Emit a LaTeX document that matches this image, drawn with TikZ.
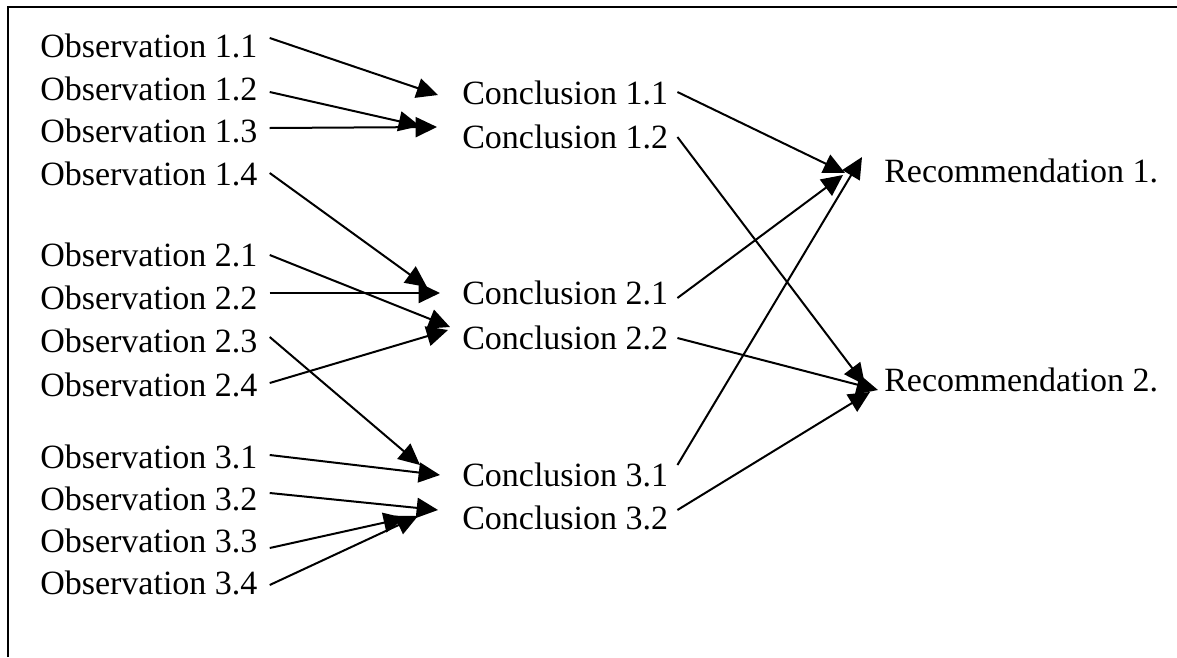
\documentclass[tikz,border=0pt]{standalone}
\usepackage{fontspec}
\setmainfont{Liberation Serif}
\usetikzlibrary{arrows.meta}
\begin{document}
\begin{tikzpicture}[x=0.75pt,y=-0.75pt,
  lbl/.style={anchor=west,inner xsep=9pt,inner ysep=0pt,text height=17.6pt,text depth=0pt,
              font=\fontsize{25.5}{30}\selectfont},
  link/.style={line width=1.5pt,-{Triangle[length=16pt,width=15pt]}},
  frame/.style={line width=2pt}]
\useasboundingbox (0,0) rectangle (1177,657);
\draw[frame] (8,657) -- (8,7) -- (1177,7);

% observations
\node[lbl] (o11) at (28,46)  {Observation 1.1};
\node[lbl] (o12) at (28,89)  {Observation 1.2};
\node[lbl] (o13) at (28,131) {Observation 1.3};
\node[lbl] (o14) at (28,174) {Observation 1.4};
\node[lbl] (o21) at (28,255) {Observation 2.1};
\node[lbl] (o22) at (28,298) {Observation 2.2};
\node[lbl] (o23) at (28,341) {Observation 2.3};
\node[lbl] (o24) at (28,385) {Observation 2.4};
\node[lbl] (o31) at (28,457) {Observation 3.1};
\node[lbl] (o32) at (28,499) {Observation 3.2};
\node[lbl] (o33) at (28,541) {Observation 3.3};
\node[lbl] (o34) at (28,583) {Observation 3.4};

% conclusions
\node[lbl] (c11) at (450,93)  {Conclusion 1.1};
\node[lbl] (c12) at (450,137) {Conclusion 1.2};
\node[lbl] (c21) at (450,293) {Conclusion 2.1};
\node[lbl] (c22) at (450,338) {Conclusion 2.2};
\node[lbl] (c31) at (450,475) {Conclusion 3.1};
\node[lbl] (c32) at (450,518) {Conclusion 3.2};

% recommendations
\node[lbl] (r1) at (872,171) {Recommendation 1.};
\node[lbl] (r2) at (872,380) {Recommendation 2.};

% observations -> conclusions
\draw[link] ([shift={(0,-8)}]o11.east) -- ([shift={(-12,2)}]c11.west);
\draw[link] ([shift={(0,3)}]o12.east)  -- ([shift={(-30,-11)}]c12.west);
\draw[link] ([shift={(0,-3)}]o13.east) -- ([shift={(-13,-10)}]c12.west);
\draw[link] ([shift={(0,-1)}]o14.east) -- ([shift={(-23,-6)}]c21.west);
\draw[link] ([shift={(0,0)}]o21.east)  -- ([shift={(0,-11)}]c22.west);
\draw[link] ([shift={(0,-5)}]o22.east) -- ([shift={(-10,0)}]c21.west);
\draw[link] ([shift={(0,-4)}]o23.east) -- ([shift={(-30,-10)}]c31.west);
\draw[link] ([shift={(0,-2)}]o24.east) -- ([shift={(-2,-8)}]c22.west);
\draw[link] ([shift={(0,-2)}]o31.east) -- ([shift={(-10,0)}]c31.west);
\draw[link] ([shift={(0,-6)}]o32.east) -- ([shift={(-12,-8)}]c32.west);
\draw[link] ([shift={(0,7)}]o33.east)  -- ([shift={(-45,0)}]c32.west);
\draw[link] ([shift={(0,2)}]o34.east)  -- ([shift={(-32,-2)}]c32.west);

% conclusions -> recommendations
\draw[link] ([shift={(-3,-1)}]c11.east)  -- ([shift={(-27,2)}]r1.west);
\draw[link] ([shift={(-3,0)}]c12.east)   -- ([shift={(-7,5)}]r2.west);
\draw[link] ([shift={(-3,5)}]c21.east)   -- ([shift={(-29,4)}]r1.west);
\draw[link] ([shift={(-3,0)}]c22.east)   -- ([shift={(6,10)}]r2.west);
\draw[link] ([shift={(-3,-10)}]c31.east) -- ([shift={(-10,-14)}]r1.west);
\draw[link] ([shift={(-3,-8)}]c32.east)  -- ([shift={(-2,12)}]r2.west);
\end{tikzpicture}
\end{document}
